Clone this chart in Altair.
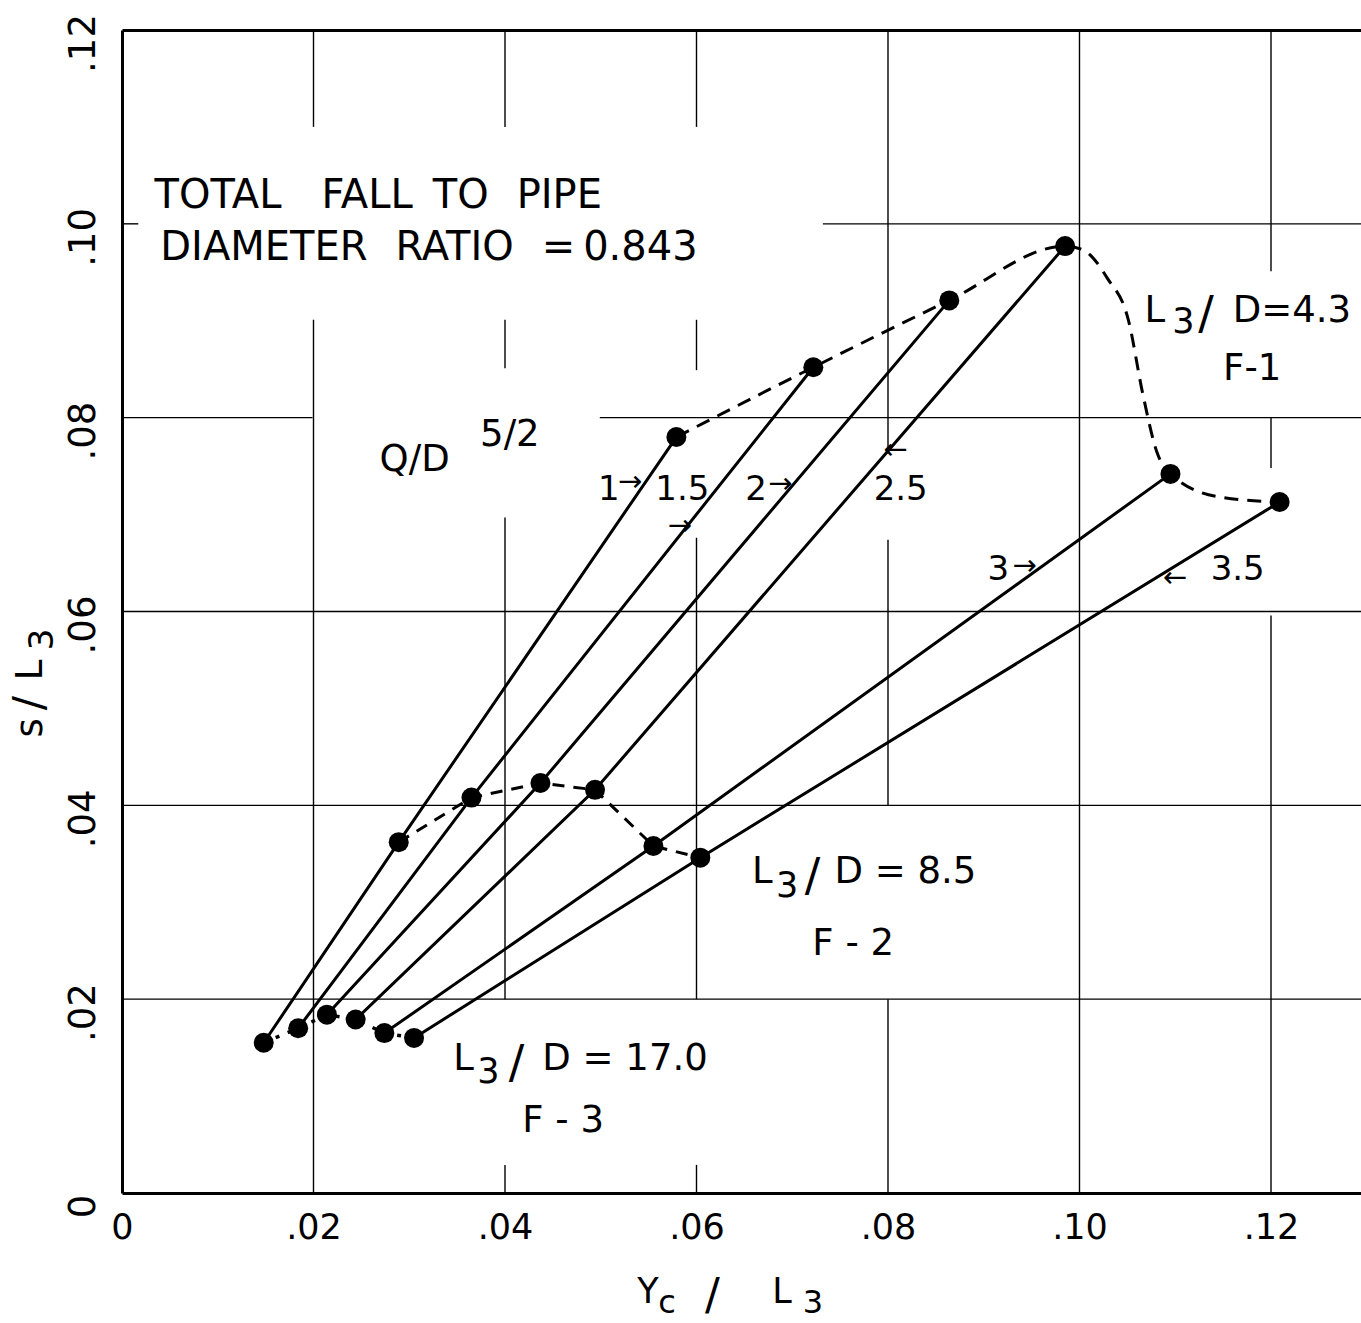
import altair as alt
import pandas as pd

# ---------------- data ----------------
q_values = [1, 1.5, 2, 2.5, 3, 3.5]          # Q/D^(5/2) of each solid line

# L3/D = 17.0 (F-3)
f3_x = [0.0148, 0.0184, 0.0214, 0.0244, 0.0274, 0.0305]
f3_y = [0.0155, 0.0170, 0.0184, 0.0179, 0.0165, 0.0160]
# L3/D = 8.5 (F-2)
f2_x = [0.0289, 0.0365, 0.0437, 0.0494, 0.0555, 0.0604]
f2_y = [0.0362, 0.0408, 0.0423, 0.0416, 0.0358, 0.0346]
# L3/D = 4.3 (F-1)
f1_x = [0.0579, 0.0722, 0.0864, 0.0985, 0.1095, 0.1209]
f1_y = [0.0780, 0.0852, 0.0921, 0.0977, 0.0742, 0.0713]
f1_trace_x = [0.1004, 0.1029, 0.1051, 0.1066, 0.1081, 0.1147]
f1_trace_y = [0.0973, 0.0944, 0.0901, 0.0825, 0.0764, 0.0718]

tick_values = [0, 0.02, 0.04, 0.06, 0.08, 0.10, 0.12]

# hand-drawn grid segments (with the gaps left for lettering)
vgrid_x  = [0.02, 0.02, 0.04, 0.04, 0.04, 0.04, 0.06, 0.06, 0.06, 0.06, 0.08, 0.08, 0.08, 0.10, 0.12, 0.12, 0.12]
vgrid_y1 = [0.110, 0.0, 0.110, 0.0851, 0.02, 0.0, 0.110, 0.0849, 0.02, 0.0, 0.0767, 0.04, 0.0, 0.0, 0.0951, 0.0748, 0.0]
vgrid_y2 = [0.12, 0.0901, 0.12, 0.0901, 0.0697, 0.0029, 0.12, 0.0901, 0.0676, 0.0029, 0.12, 0.0674, 0.02, 0.12, 0.12, 0.0800, 0.0596]
hgrid_y  = [0.10, 0.10, 0.08, 0.08, 0.06, 0.04, 0.02]
hgrid_x1 = [0.0, 0.0732, 0.0, 0.0499, 0.0, 0.0, 0.0]
hgrid_x2 = [0.0017, 0.1294, 0.0199, 0.1294, 0.1294, 0.1294, 0.1294]

X_MAX = 0.1294
Y_MAX = 0.12
FONT = "DejaVu Sans"

xs = alt.Scale(domain=[0, X_MAX], nice=False, zero=False)
ys = alt.Scale(domain=[0, Y_MAX], nice=False, zero=False)
label_expr = "datum.value == 0 ? '0' : replace(format(datum.value, '.2f'), '0.', '.')"

x_axis = alt.Axis(values=tick_values, labelExpr=label_expr, title=None, grid=False,
                  ticks=False, domain=True, domainWidth=3, domainColor="black",
                  labelFont=FONT, labelFontSize=35, labelColor="black",
                  labelPadding=17, labelFlush=False, labelOverlap=False)
y_axis = alt.Axis(values=tick_values, labelExpr=label_expr, title=None, grid=False,
                  ticks=False, domain=True, domainWidth=3, domainColor="black",
                  labelFont=FONT, labelFontSize=37, labelColor="black",
                  labelAngle=270, labelAlign="center", labelBaseline="bottom",
                  labelPadding=20, labelOffset=13, labelFlush=False, labelOverlap=False)
top_axis = alt.Axis(orient="top", labels=False, ticks=False, grid=False, title=None,
                    domain=True, domainWidth=3, domainColor="black")

# ---------------- grid ----------------
vgrid_df = pd.DataFrame({"gx": vgrid_x, "gy1": vgrid_y1, "gy2": vgrid_y2})
hgrid_df = pd.DataFrame({"hy": hgrid_y, "hx1": hgrid_x1, "hx2": hgrid_x2})

vgrid = alt.Chart(vgrid_df).mark_rule(color="black", strokeWidth=1.4).encode(
    x=alt.X("gx:Q", scale=xs, axis=None),
    y=alt.Y("gy1:Q", scale=ys, axis=None),
    y2="gy2:Q")
hgrid = alt.Chart(hgrid_df).mark_rule(color="black", strokeWidth=1.4).encode(
    x=alt.X("hx1:Q", scale=xs, axis=top_axis),
    x2="hx2:Q",
    y=alt.Y("hy:Q", scale=ys, axis=None))

# ---------------- solid Q lines ----------------
rows = []
for i, q in enumerate(q_values):
    for stage, (sx, sy) in enumerate([(f3_x, f3_y), (f2_x, f2_y), (f1_x, f1_y)]):
        rows.append({"q": q, "stage": stage, "x": sx[i], "y": sy[i]})
lines_df = pd.DataFrame(rows)
q_lines = alt.Chart(lines_df).mark_line(color="black", strokeWidth=3).encode(
    x=alt.X("x:Q", scale=xs, axis=None),
    y=alt.Y("y:Q", scale=ys, axis=None),
    detail="q:N",
    order="stage:Q")

# ---------------- dashed L3/D curves ----------------
f1_curve_df = pd.DataFrame({"x": f1_x + f1_trace_x, "y": f1_y + f1_trace_y}).sort_values("x")
f2_df = pd.DataFrame({"x": f2_x, "y": f2_y})
f3_df = pd.DataFrame({"x": f3_x, "y": f3_y})

f1_curve = alt.Chart(f1_curve_df).mark_line(color="black", strokeWidth=3,
                                            strokeDash=[14, 9], interpolate="monotone").encode(
    x=alt.X("x:Q", scale=xs, axis=None), y=alt.Y("y:Q", scale=ys, axis=None), order="x:Q")
f2_curve = alt.Chart(f2_df).mark_line(color="black", strokeWidth=3,
                                      strokeDash=[12, 9]).encode(
    x=alt.X("x:Q", scale=xs, axis=None), y=alt.Y("y:Q", scale=ys, axis=None), order="x:Q")
f3_curve = alt.Chart(f3_df).mark_line(color="black", strokeWidth=3.5,
                                      strokeDash=[4, 9]).encode(
    x=alt.X("x:Q", scale=xs, axis=None), y=alt.Y("y:Q", scale=ys, axis=None), order="x:Q")

# ---------------- points ----------------
pts_df = pd.DataFrame({"x": f3_x + f2_x + f1_x, "y": f3_y + f2_y + f1_y})
points = alt.Chart(pts_df).mark_circle(size=400, color="black", opacity=1).encode(
    x=alt.X("x:Q", scale=xs, axis=x_axis),
    y=alt.Y("y:Q", scale=ys, axis=y_axis))


# ---------------- lettering ----------------
def text_layer(texts, tx, ty, size, angle=0):
    df = pd.DataFrame({"t": texts, "x": tx, "y": ty})
    return alt.Chart(df).mark_text(align="left", baseline="alphabetic", font=FONT,
                                   fontSize=size, color="black", angle=angle).encode(
        x=alt.X("x:Q", scale=xs, axis=None),
        y=alt.Y("y:Q", scale=ys, axis=None),
        text="t:N")


title_txt = text_layer(["TOTAL\u2003FALL\u2002TO\u2002\u2009PIPE",
                        "DIAMETER\u2002\u2009RATIO\u2002\u2009=\u20090.843"],
                       [0.0034, 0.0040], [0.1016, 0.0963], 40)

curve_txt = text_layer(
    ["L", "D=4.3", "F-1", "L", "D = 8.5", "F - 2", "L", "D = 17.0", "F - 3", "Q/D", "5/2"],
    [0.1068, 0.1160, 0.1150, 0.0658, 0.0744, 0.0721, 0.0346, 0.0439, 0.0418, 0.0269, 0.0374],
    [0.0899, 0.0899, 0.0839, 0.0320, 0.0320, 0.0246, 0.0127, 0.0127, 0.0063, 0.0745, 0.0771],
    37)
slash_txt = text_layer(["/", "/", "/"], [0.1124, 0.0713, 0.0404], [0.0892, 0.0312, 0.0119], 46)
sub_txt = text_layer(["3", "3", "3"], [0.1097, 0.0683, 0.0371], [0.0887, 0.0305, 0.0113], 35)

q_txt = text_layer(["1", "1.5", "2", "2.5", "3", "3.5"],
                   [0.0497, 0.0557, 0.0651, 0.0785, 0.0904, 0.1137],
                   [0.0715, 0.0715, 0.0715, 0.0715, 0.0632, 0.0632], 34)
arrow_txt = text_layer(["\u2192", "\u2192", "\u2192", "\u2190", "\u2192", "\u2190"],
                       [0.0518, 0.0570, 0.0675, 0.0795, 0.0930, 0.1087],
                       [0.0724, 0.0679, 0.0722, 0.0757, 0.0638, 0.0625], 29)

# axis titles: Yc / L3 and s / L3
xtitle_main = text_layer(["Y", "L"], [0.0538, 0.0679], [-0.0113, -0.0113], 35)
xtitle_slash = text_layer(["/"], [0.0609], [-0.0121], 44)
xtitle_sub = text_layer(["c", "3"], [0.0560, 0.0711], [-0.0124, -0.0124], 32)
ytitle_main = text_layer(["s", "L"], [-0.0084, -0.0084], [0.0470, 0.0529], 37, angle=270)
ytitle_slash = text_layer(["/"], [-0.0082], [0.0498], 42, angle=270)
ytitle_sub = text_layer(["3"], [-0.0072], [0.0560], 34, angle=270)

chart = alt.layer(
    vgrid, hgrid, q_lines, f1_curve, f2_curve, f3_curve, points,
    title_txt, curve_txt, slash_txt, sub_txt, q_txt, arrow_txt,
    xtitle_main, xtitle_slash, xtitle_sub, ytitle_main, ytitle_slash, ytitle_sub,
).resolve_axis(x="independent", y="independent").properties(
    width=1239, height=1163,
    padding={"left": 122, "top": 30, "right": 0, "bottom": 130},
    autosize=alt.AutoSizeParams(type="none"),
    background="white",
).configure_view(stroke=None)

chart.save("out.html", embed_options={"renderer": "svg", "actions": False})
